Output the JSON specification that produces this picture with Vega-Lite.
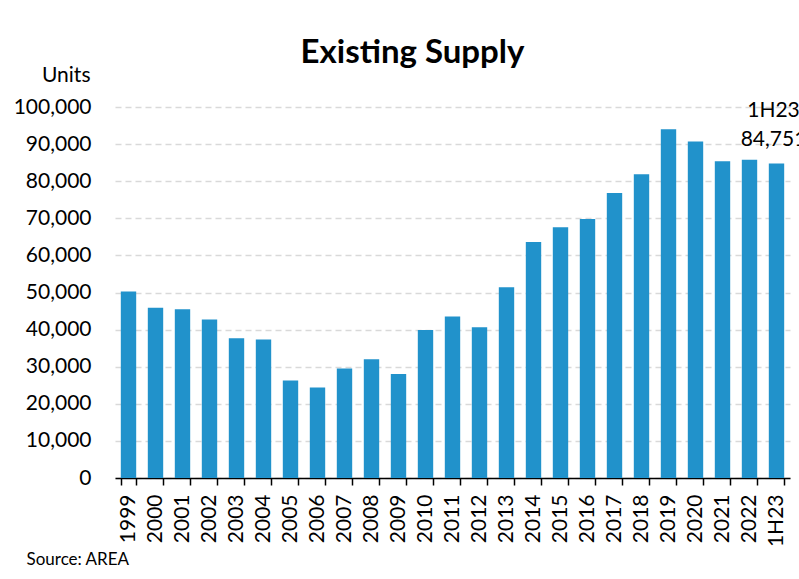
{
  "$schema": "https://vega.github.io/schema/vega-lite/v6.json",
  "width": 675,
  "height": 371,
  "autosize": {"type": "none"},
  "padding": {"left": 115, "top": 107, "right": 9, "bottom": 101},
  "background": "white",
  "config": {"view": {"stroke": null}, "font": "Lato"},
  "title": {
    "text": "Existing Supply",
    "font": "Lato",
    "fontSize": 33,
    "fontWeight": "bold",
    "color": "#000000",
    "anchor": "middle",
    "frame": "group",
    "dx": -40,
    "dy": 6,
    "offset": 0
  },
  "data": {
    "values": [
      {"period": "1999", "units": 50300},
      {"period": "2000", "units": 45900},
      {"period": "2001", "units": 45500},
      {"period": "2002", "units": 42700},
      {"period": "2003", "units": 37700},
      {"period": "2004", "units": 37300},
      {"period": "2005", "units": 26300},
      {"period": "2006", "units": 24400},
      {"period": "2007", "units": 29500},
      {"period": "2008", "units": 32000},
      {"period": "2009", "units": 28000},
      {"period": "2010", "units": 39900},
      {"period": "2011", "units": 43500},
      {"period": "2012", "units": 40600},
      {"period": "2013", "units": 51400},
      {"period": "2014", "units": 63600},
      {"period": "2015", "units": 67600},
      {"period": "2016", "units": 69800},
      {"period": "2017", "units": 76800},
      {"period": "2018", "units": 81900},
      {"period": "2019", "units": 94000},
      {"period": "2020", "units": 90700},
      {"period": "2021", "units": 85400},
      {"period": "2022", "units": 85800},
      {"period": "1H23", "units": 84751}
    ]
  },
  "encoding": {
    "x": {
      "field": "period",
      "type": "ordinal",
      "sort": null,
      "scale": {"paddingInner": 0.43, "paddingOuter": 0.215},
      "axis": {
        "title": "Source: AREA",
        "titleFont": "Lato",
        "titleFontSize": 17,
        "titleFontWeight": "normal",
        "titleColor": "#000000",
        "titleAnchor": "start",
        "titleAlign": "left",
        "titleBaseline": "middle",
        "titleX": -89,
        "titleY": 81,
        "labelAngle": -90,
        "labelAlign": "right",
        "labelBaseline": "middle",
        "labelFont": "Lato",
        "labelFontSize": 21,
        "labelColor": "#000000",
        "labelPadding": 9,
        "labelOverlap": false,
        "tickBand": "extent",
        "tickSize": 7,
        "tickColor": "#000000",
        "tickWidth": 1.5,
        "domainColor": "#000000",
        "domainWidth": 1.5,
        "grid": false
      }
    },
    "y": {
      "field": "units",
      "type": "quantitative",
      "scale": {"domain": [0, 100000], "nice": false},
      "axis": {
        "title": "Units",
        "titleFont": "Lato",
        "titleFontSize": 21,
        "titleFontWeight": "normal",
        "titleColor": "#000000",
        "titleAngle": 0,
        "titleAlign": "right",
        "titleBaseline": "middle",
        "titleX": -25,
        "titleY": -32,
        "values": [0, 10000, 20000, 30000, 40000, 50000, 60000, 70000, 80000, 90000, 100000],
        "format": ",d",
        "labelFont": "Lato",
        "labelFontSize": 21,
        "labelColor": "#000000",
        "labelPadding": 24,
        "labelOverlap": false,
        "ticks": false,
        "tickSize": 0,
        "domain": false,
        "grid": true,
        "gridColor": "#d9d9d9",
        "gridDash": [6, 4],
        "gridWidth": 1.5
      }
    }
  },
  "layer": [
    {
      "mark": {"type": "bar", "color": "#2192CB"}
    },
    {
      "transform": [{"filter": "datum.period === '1H23'"}],
      "mark": {
        "type": "text",
        "font": "Lato",
        "fontSize": 21,
        "color": "#000000",
        "align": "center",
        "baseline": "bottom",
        "dy": -43,
        "dx": -3,
        "lineHeight": 29
      },
      "encoding": {
        "text": {"value": ["1H23", "84,751"]}
      }
    }
  ]
}
